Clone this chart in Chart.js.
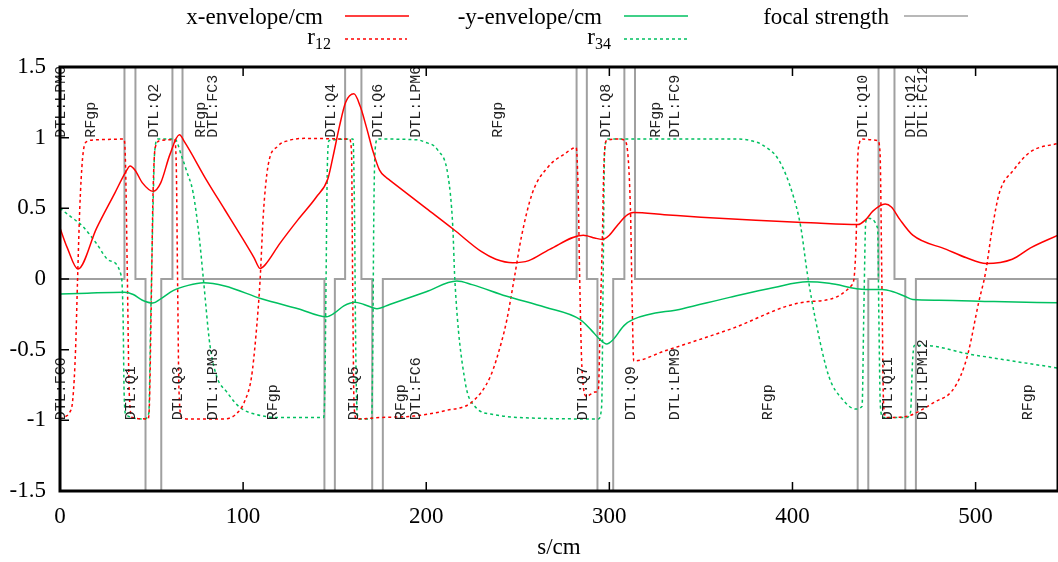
<!DOCTYPE html>
<html>
<head>
<meta charset="utf-8">
<script src="https://cdn.jsdelivr.net/npm/chart.js@4.4.0/dist/chart.umd.min.js"></script>
<style>
html, body { margin: 0; padding: 0; background: #fff; }
</style>
</head>
<body>
<canvas id="c" width="1058" height="562"></canvas>
<script>
// axis ticks
var xTicks = [0, 100, 200, 300, 400, 500];
var yTicks = [-1.5, -1, -0.5, 0, 0.5, 1, 1.5];
var yTickLabels = ['-1.5', '-1', '-0.5', '0', '0.5', '1', '1.5'];

// [s/cm, value]
var xEnv = [[0,0.36],[4,0.22],[9.8,0.07],[20,0.36],[30,0.61],[36,0.76],[38.3,0.80],[41,0.77],[45,0.68],
  [50.9,0.62],[55,0.68],[60,0.88],[65.2,1.02],[68,0.97],[80,0.70],[90,0.49],[100,0.28],[106,0.15],
  [109.3,0.075],[112,0.10],[120,0.25],[130,0.42],[140,0.58],[146.3,0.71],[149,0.86],[152.6,1.08],
  [156,1.25],[160.5,1.31],[164,1.22],[167.2,1.08],[171,0.90],[174.5,0.77],[178,0.72],[180,0.70],
  [200,0.50],[215,0.35],[230,0.195],[238,0.14],[247.3,0.115],[256,0.13],[267.4,0.21],[285.8,0.31],
  [288,0.305],[292,0.29],[296.2,0.28],[300,0.31],[305,0.39],[310,0.455],[313.2,0.47],[330,0.455],
  [350,0.437],[380,0.415],[410,0.398],[435.7,0.385],[440,0.42],[443.9,0.48],[450.6,0.53],[454,0.51],
  [458.7,0.42],[465.7,0.31],[484,0.21],[495,0.15],[505.8,0.11],[520,0.14],[530,0.22],[545,0.31]];

var yEnv = [[0,-0.107],[15,-0.10],[35.2,-0.093],[40,-0.11],[45,-0.15],[50.7,-0.17],[55,-0.14],
  [62,-0.08],[70,-0.045],[78.3,-0.027],[90,-0.05],[110,-0.14],[130,-0.21],[145.5,-0.267],[150,-0.24],
  [155,-0.19],[161,-0.164],[166,-0.18],[173.1,-0.21],[180,-0.18],[200,-0.09],[216.7,-0.015],
  [225,-0.04],[243.5,-0.12],[265,-0.20],[283.9,-0.286],[290,-0.36],[295,-0.43],[298.5,-0.46],
  [302,-0.43],[308,-0.33],[313,-0.286],[340,-0.21],[365.7,-0.13],[390,-0.06],[408,-0.02],
  [420,-0.03],[440,-0.074],[449,-0.074],[455,-0.09],[461,-0.12],[465.7,-0.145],[480,-0.15],
  [510,-0.16],[545,-0.168]];

var r12 = [[0,-0.99],[3.4,-0.97],[5,-0.95],[7,-0.85],[8.5,-0.5],[9.6,0],[10.8,0.5],[12.3,0.85],
  [14.3,0.97],[20,0.985],[35,0.99],[35.8,0.8],[36.8,0],[37.8,-0.8],[39.5,-0.98],[48,-0.99],
  [48.8,-0.9],[49.8,-0.2],[50.8,0.6],[52,0.93],[55,0.98],[62.5,0.985],[63.5,0.8],[64.2,0],
  [65,-0.8],[66.5,-0.98],[70,-0.99],[90,-0.99],[97.4,-0.94],[101,-0.86],[104.5,-0.7],[107,-0.4],
  [109.3,0],[111,0.45],[113.6,0.8],[119,0.94],[125,0.98],[133.6,0.995],[158,0.99],[159.2,0.9],
  [159.8,0],[160.6,-0.9],[162,-0.99],[175,-0.98],[193,-0.97],[211,-0.93],[225,-0.87],[235,-0.69],
  [241,-0.45],[244,-0.29],[248,0],[252,0.3],[258,0.61],[267,0.80],[275,0.88],[281.9,0.93],
  [283,0.6],[283.8,0],[285,-0.62],[287.5,-0.83],[292,-0.80],[294,-0.78],[295,-0.3],[296.2,0.3],
  [297,0.8],[298.5,0.98],[305,0.99],[308.5,0.98],[311.5,0.5],[312.5,-0.2],[313.3,-0.58],
  [330,-0.51],[365,-0.36],[409,-0.16],[432.6,-0.04],[434.8,0.3],[435.5,0.8],[436.5,0.96],
  [438,0.99],[446.5,0.98],[447.8,0.9],[448.8,0],[449.8,-0.9],[451.5,-0.98],[463,-0.97],[470,-0.93],
  [477.7,-0.87],[486.6,-0.80],[492,-0.68],[496,-0.52],[501.6,-0.17],[505.5,0.05],[509,0.35],
  [513,0.61],[520.7,0.77],[530,0.90],[545,0.96]];

var r34 = [[0,0.50],[6,0.44],[12.6,0.37],[20,0.25],[27,0.13],[33.5,0.02],[34.5,-0.3],[35,-0.8],
  [36,-0.96],[46,-0.99],
  [48.5,-0.95],[49.5,-0.3],[50.8,0.5],[51.7,0.9],[53.5,0.99],[62.7,0.99],[66.4,0.87],[69,0.77],
  [72.7,0.61],[76,0.3],[78.3,0],[81.9,-0.47],[85.6,-0.69],[91.1,-0.80],[98.4,-0.91],[107.5,-0.96],
  [120,-0.98],[143.9,-0.98],[144.6,-0.8],[145.3,0],[146,0.8],[147,0.98],[160,0.99],[160.8,0.5],
  [161.5,-0.5],[162.3,-0.95],[163.5,-0.99],[170.2,-0.99],[170.8,-0.5],[171.4,0.5],[172.2,0.93],
  [173.5,0.99],[195,0.985],[199,0.97],[206.4,0.91],[211.9,0.73],[214.5,0.37],[215.6,0],[221,-0.71],
  [226.5,-0.90],[237.4,-0.96],[260,-0.985],[294,-0.99],[295.8,-0.9],[296.6,0],[297.4,0.9],
  [299,0.99],[370,0.99],[380,0.97],[383.5,0.95],[392.6,0.84],[399.9,0.61],[404.5,0.37],[408.1,0.04],
  [412.6,-0.29],[419.9,-0.69],[427.2,-0.85],[434.5,-0.92],[438,-0.9],[439,-0.2],[440,0.40],
  [441,0.43],[446.5,0.36],[447.2,-0.3],[448,-0.9],[449.5,-0.98],[462,-0.98],[464.5,-0.94],
  [465.5,-0.6],[466.5,-0.47],[472,-0.47],[496,-0.53],[520,-0.58],[545,-0.63]];

// quadrupole focal strength: start, end, strength (off scale)
var quadStart = [35.2, 46.7, 61.4, 144.4, 155.7, 170.5, 282.1, 293.5, 308.2, 435.6, 447.0, 461.6];
var quadEnd   = [41.2, 55.3, 66.9, 150.1, 164.6, 176.3, 287.7, 302.1, 314.0, 441.4, 455.7, 467.4];
var quadK     = [2, -2, 2, -2, 2, -2, 2, -2, 2, -2, 2, -2];

// element labels
var topLabelS = [0.5, 17, 51.6, 77.1, 83.5, 148.1, 173.6, 194.5, 239.1, 298.3, 325.6, 335.6, 438.4, 464.9, 471.2];
var topLabels = ['DTL:LPM0', 'RFgp', 'DTL:Q2', 'RFgp', 'DTL:FC3', 'DTL:Q4', 'DTL:Q6', 'DTL:LPM6', 'RFgp',
  'DTL:Q8', 'RFgp', 'DTL:FC9', 'DTL:Q10', 'DTL:Q12', 'DTL:FC12'];
var bottomLabelS = [0.5, 38.9, 64.3, 83.5, 116.2, 160.8, 186.3, 194.5, 285.5, 312, 335.6, 386.6, 452.1, 471.2, 528.6];
var bottomLabels = ['DTL:FC0', 'DTL:Q1', 'DTL:Q3', 'DTL:LPM3', 'RFgp', 'DTL:Q5', 'RFgp', 'DTL:FC6',
  'DTL:Q7', 'DTL:Q9', 'DTL:LPM9', 'RFgp', 'DTL:Q11', 'DTL:LPM12', 'RFgp'];

var RED = 'rgb(255,0,0)', GREEN = 'rgb(0,192,96)', GRAY = 'rgb(160,160,160)';
var SERIF = '"Liberation Serif", "Times New Roman", serif';

function pts(arr) {
  return arr.map(function (p) { return { x: p[0], y: p[1] }; });
}

var focal = [{ x: 0, y: 0 }];
for (var i = 0; i < quadStart.length; i++) {
  focal.push({ x: quadStart[i], y: 0 }, { x: quadStart[i], y: quadK[i] },
             { x: quadEnd[i], y: quadK[i] }, { x: quadEnd[i], y: 0 });
}
focal.push({ x: 545, y: 0 });

var framePlugin = {
  id: 'frame',
  afterDatasetsDraw: function (chart) {
    var ctx = chart.ctx, a = chart.chartArea;
    var xs = chart.scales.x, ys = chart.scales.y;
    ctx.save();
    // element labels
    ctx.fillStyle = '#222';
    ctx.font = '15px "Liberation Mono", "DejaVu Sans Mono", monospace';
    ctx.textAlign = 'left';
    ctx.textBaseline = 'middle';
    function lab(s, v, t) {
      ctx.save();
      ctx.translate(xs.getPixelForValue(s), ys.getPixelForValue(v));
      ctx.rotate(-Math.PI / 2);
      ctx.fillText(t, 0, 0);
      ctx.restore();
    }
    topLabelS.forEach(function (s, i) { lab(s, 1, topLabels[i]); });
    bottomLabelS.forEach(function (s, i) { lab(s, -1, bottomLabels[i]); });

    // ticks
    ctx.strokeStyle = '#000';
    ctx.lineWidth = 1.5;
    ctx.beginPath();
    xTicks.forEach(function (v) {
      if (v === xs.min) return;
      var px = xs.getPixelForValue(v);
      ctx.moveTo(px, a.bottom); ctx.lineTo(px, a.bottom - 9);
      ctx.moveTo(px, a.top); ctx.lineTo(px, a.top + 9);
    });
    yTicks.forEach(function (v) {
      if (v === ys.min || v === ys.max) return;
      var py = ys.getPixelForValue(v);
      ctx.moveTo(a.left, py); ctx.lineTo(a.left + 9, py);
    });
    ctx.stroke();
    // frame
    ctx.lineWidth = 3;
    ctx.strokeRect(a.left, a.top, a.right - a.left, a.bottom - a.top);
    ctx.restore();
  },
  afterDraw: function (chart) {
    var ctx = chart.ctx;
    ctx.save();
    ctx.fillStyle = '#000';
    ctx.textBaseline = 'middle';
    ctx.textAlign = 'right';
    function sample(x1, x2, y, color, dash) {
      ctx.beginPath();
      ctx.strokeStyle = color;
      ctx.lineWidth = 1.5;
      ctx.setLineDash(dash);
      ctx.moveTo(x1, y); ctx.lineTo(x2, y);
      ctx.stroke();
      ctx.setLineDash([]);
    }
    ctx.font = '23px ' + SERIF;
    ctx.fillText('x-envelope/cm', 323, 18);
    ctx.fillText('-y-envelope/cm', 602, 18);
    ctx.fillText('focal strength', 889, 18);
    sample(345, 409, 16, RED, []);
    sample(624, 688, 16, GREEN, []);
    sample(904, 968, 16, GRAY, []);
    // subscripted r12 / r34
    function sub(base, idx, right, y) {
      ctx.font = '16px ' + SERIF;
      var w = ctx.measureText(idx).width;
      ctx.fillText(idx, right, y + 7);
      ctx.font = '23px ' + SERIF;
      ctx.fillText(base, right - w, y);
    }
    sub('r', '12', 331, 38);
    sub('r', '34', 611, 38);
    sample(345, 407, 39, RED, [3, 3]);
    sample(624, 687, 39, GREEN, [3, 3]);
    ctx.restore();
  }
};

function curve(label, data, color, dash, width) {
  return {
    label: label, data: pts(data), borderColor: color, backgroundColor: color,
    borderWidth: width, borderDash: dash, showLine: true, pointRadius: 0,
    cubicInterpolationMode: 'monotone', fill: false
  };
}

new Chart(document.getElementById('c'), {
  type: 'scatter',
  data: {
    datasets: [
      curve('x-envelope/cm', xEnv, RED, [], 1.5),
      curve('-y-envelope/cm', yEnv, GREEN, [], 1.5),
      curve('r12', r12, RED, [3, 3], 1.5),
      curve('r34', r34, GREEN, [3, 3], 1.5),
      { label: 'focal strength', data: focal, borderColor: GRAY, borderWidth: 2,
        showLine: true, pointRadius: 0, tension: 0, fill: false }
    ]
  },
  options: {
    responsive: false,
    animation: false,
    layout: { padding: { top: 67, left: 0, right: 0, bottom: 0 } },
    plugins: { legend: { display: false }, tooltip: { enabled: false } },
    scales: {
      x: {
        type: 'linear', min: 0, max: 545,
        afterBuildTicks: function (s) { s.ticks = xTicks.map(function (v) { return { value: v }; }); },
        afterFit: function (s) { s.height = 71; },
        grid: { display: false, drawTicks: false },
        border: { display: false },
        ticks: { color: '#000', font: { family: SERIF, size: 23 }, padding: 12, maxRotation: 0, autoSkip: false },
        title: { display: true, text: 's/cm', color: '#000', font: { family: SERIF, size: 23 }, padding: { top: 0, bottom: 0 } }
      },
      y: {
        min: -1.5, max: 1.5,
        afterBuildTicks: function (s) { s.ticks = yTicks.map(function (v) { return { value: v }; }); },
        afterFit: function (s) { s.width = 60; },
        grid: { display: false, drawTicks: false },
        border: { display: false },
        ticks: {
          color: '#000', font: { family: SERIF, size: 23 }, padding: 14,
          callback: function (v, i) { return yTickLabels[i]; }
        }
      }
    }
  },
  plugins: [framePlugin]
});
</script>
</body>
</html>
